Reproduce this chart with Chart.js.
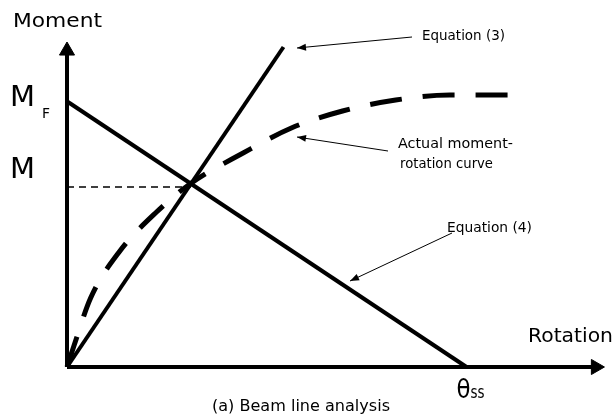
<!DOCTYPE html>
<html>
<head>
  <title>Beam line analysis</title>
  <script src="https://cdn.jsdelivr.net/npm/chart.js@4.4.0/dist/chart.umd.min.js"></script>
  <style>
    body { margin: 0; background: #fff; }
    canvas { display: block; }
  </style>
</head>
<body>
  <canvas id="beamChart" width="614" height="417"></canvas>

  <script>
    // Ejes (unidades arbitrarias)
    const rotationMax = 546;
    const momentMax = 325;

    // Valores clave
    const momentF = 265;   // M_F
    const momentM = 180;   // M
    const thetaSS = 406;   // theta_ss

    // Ecuacion (3)
    const eq3Rotation = [0, 220];
    const eq3Moment = [0, 320];

    // Ecuacion (4) - linea de viga
    const eq4Rotation = [1, thetaSS];
    const eq4Moment = [momentF, 0];

    // Curva real momento-rotacion
    const curveRotation = [0, 7, 24, 53, 91, 125, 179, 228, 280, 334, 389, 460];
    const curveMoment = [0, 21, 69, 115, 155, 183, 214, 239, 256, 267, 272, 272];

    function toPoints(xs, ys) {
      return xs.map(function (x, i) { return { x: x, y: ys[i] }; });
    }

    const black = '#000';
    const arrowRadius = 8.7;

    // texto estirado al ancho del original (letra ancha tipo Century Gothic)
    function fitText(ctx, str, x, y, size, width) {
      ctx.font = size + 'px "DejaVu Sans"';
      const w = ctx.measureText(str).width;
      ctx.save();
      ctx.translate(x, y);
      ctx.scale(width / w, 1);
      ctx.fillText(str, 0, 0);
      ctx.restore();
    }

    // Texto y flechas de anotacion
    const labelsPlugin = {
      id: 'labels',
      afterDatasetsDraw: function (chart) {
        const ctx = chart.ctx;
        const xs = chart.scales.x;
        const ys = chart.scales.y;
        ctx.save();
        ctx.fillStyle = black;
        ctx.strokeStyle = black;
        ctx.textBaseline = 'alphabetic';
        ctx.textAlign = 'left';

        fitText(ctx, 'Moment', 13, 27, 19, 89);
        fitText(ctx, 'Rotation', 528, 342, 20, 85);

        fitText(ctx, 'M', 10, ys.getPixelForValue(momentF) + 4, 29, 25);
        fitText(ctx, 'M', 10, ys.getPixelForValue(momentM) - 9, 29, 25);
        fitText(ctx, 'F', 42, ys.getPixelForValue(momentF) + 16, 14, 8);

        const tx = xs.getPixelForValue(thetaSS);
        fitText(ctx, '\u03B8', tx - 10, 398, 27, 14);
        fitText(ctx, 'ss', tx + 4, 398, 18, 14);

        fitText(ctx, '(a) Beam line analysis', 212, 411, 16, 178);

        fitText(ctx, 'Equation (3)', 422, 40, 14, 83);
        fitText(ctx, 'Actual moment-', 398, 148, 14, 115);
        fitText(ctx, 'rotation curve', 400, 168, 14, 93);
        fitText(ctx, 'Equation (4)', 447, 232, 14, 85);

        function arrow(x1, y1, x2, y2) {
          ctx.lineWidth = 1;
          ctx.beginPath();
          ctx.moveTo(x1, y1);
          ctx.lineTo(x2, y2);
          ctx.stroke();
          const a = Math.atan2(y2 - y1, x2 - x1);
          const len = 9, half = 3.5;
          ctx.beginPath();
          ctx.moveTo(x2, y2);
          ctx.lineTo(x2 - len * Math.cos(a) + half * Math.sin(a), y2 - len * Math.sin(a) - half * Math.cos(a));
          ctx.lineTo(x2 - len * Math.cos(a) - half * Math.sin(a), y2 - len * Math.sin(a) + half * Math.cos(a));
          ctx.closePath();
          ctx.fill();
        }
        arrow(412, 37, 297, 48);
        arrow(388, 151, 297, 137);
        arrow(452, 233, 350, 281);

        ctx.restore();
      }
    };

    const lineBase = {
      borderColor: black,
      backgroundColor: black,
      pointRadius: 0,
      fill: false,
      clip: false
    };

    const beamChart = new Chart(document.getElementById('beamChart'), {
      type: 'line',
      data: {
        datasets: [
          Object.assign({}, lineBase, {
            label: 'M',
            data: [{ x: 0, y: momentM }, { x: 126, y: momentM }],
            borderWidth: 1.5,
            borderDash: [7, 5]
          }),
          Object.assign({}, lineBase, {
            label: 'Equation (3)',
            data: toPoints(eq3Rotation, eq3Moment),
            borderWidth: 4
          }),
          Object.assign({}, lineBase, {
            label: 'Equation (4)',
            data: toPoints(eq4Rotation, eq4Moment),
            borderWidth: 4
          }),
          Object.assign({}, lineBase, {
            label: 'Actual moment-rotation curve',
            data: toPoints(curveRotation, curveMoment),
            borderWidth: 5,
            borderDash: [32, 21],
            cubicInterpolationMode: 'monotone'
          }),
          // eje de momento con flecha
          Object.assign({}, lineBase, {
            label: 'Moment axis',
            data: [{ x: 0, y: 0 }, { x: 0, y: momentMax - arrowRadius }],
            borderWidth: 4,
            pointStyle: 'triangle',
            pointRadius: function (c) { return c.dataIndex === 1 ? arrowRadius : 0; },
            pointBorderWidth: 1,
            pointBorderColor: black,
            pointBackgroundColor: black
          }),
          // eje de rotacion con flecha
          Object.assign({}, lineBase, {
            label: 'Rotation axis',
            data: [{ x: 0, y: 0 }, { x: rotationMax - arrowRadius, y: 0 }],
            borderWidth: 4,
            pointStyle: 'triangle',
            pointRotation: 90,
            pointRadius: function (c) { return c.dataIndex === 1 ? arrowRadius : 0; },
            pointBorderWidth: 1,
            pointBorderColor: black,
            pointBackgroundColor: black
          })
        ]
      },
      options: {
        responsive: false,
        animation: false,
        devicePixelRatio: 1,
        layout: { padding: { left: 67, right: 1, top: 42, bottom: 50 } },
        plugins: {
          legend: { display: false },
          tooltip: { enabled: false }
        },
        scales: {
          x: { type: 'linear', min: 0, max: rotationMax, display: false },
          y: { type: 'linear', min: 0, max: momentMax, display: false }
        }
      },
      plugins: [labelsPlugin]
    });
  </script>
</body>
</html>
